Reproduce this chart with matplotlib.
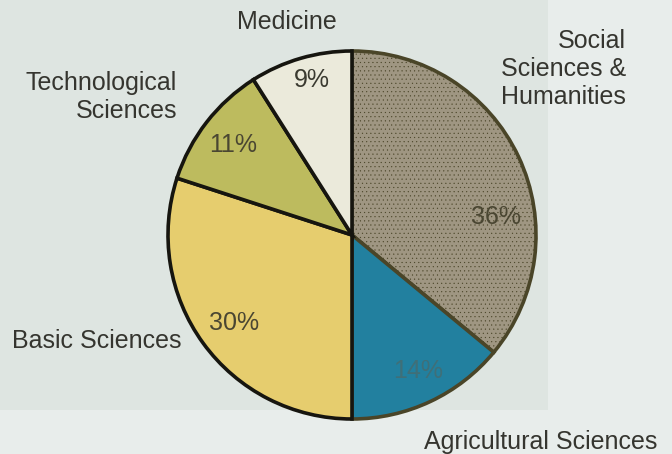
import numpy as np
import matplotlib.pyplot as plt
from matplotlib.patches import Rectangle

# Share of research output by field (percent), clockwise from 12 o'clock
fields = ["Social\nSciences &\nHumanities", "Agricultural Sciences", "Basic Sciences",
          "Technological\nSciences", "Medicine"]
shares = [36, 14, 30, 11, 9]
pct_labels = ["36%", "14%", "30%", "11%", "9%"]

colors = ["#9f9682", "#22809f", "#e6cd6e", "#bdbb5e", "#ebeadb"]
edge_colors = ["#4a4528", "#4a4528", "#16150f", "#16150f", "#16150f"]
pct_colors = ["#4a4632", "#3f6f78", "#4a4632", "#4a4632", "#3a3a30"]

# fine dotted screen on the social sciences wedge
plt.rcParams["hatch.color"] = "#948b77"
plt.rcParams["hatch.linewidth"] = 0.3

W, H = 672, 454
fig = plt.figure(figsize=(W / 100, H / 100), dpi=100)
fig.patch.set_facecolor("#e8edeb")
ax = fig.add_axes([0, 0, 1, 1])

# faint table panel behind the pie
ax.add_patch(Rectangle((0, H - 410), 548, 410, facecolor="#dee5e1", edgecolor="none", zorder=0))

cx, cy, r = 352, H - 235, 184
wedges, _ = ax.pie(shares, colors=colors, startangle=90, counterclock=False,
                   center=(cx, cy), radius=r, frame=True,
                   wedgeprops=dict(linewidth=2.6))
for w, ec in zip(wedges, edge_colors):
    w.set_edgecolor(ec)
    w.set_zorder(2)
wedges[0].set_hatch("....")
ax.set_xlim(0, W)
ax.set_ylim(0, H)
ax.set_aspect("auto")
ax.axis("off")

font = ["Liberation Sans", "DejaVu Sans"]
fs = 18

# percentage labels: angle (deg) and radial fraction for each wedge
pct_angles = [7, -64, -143.5, 143, 104.5]
pct_radii = [0.79, 0.82, 0.80, 0.81, 0.87]
for lab, ang, rf, col in zip(pct_labels, pct_angles, pct_radii, pct_colors):
    a = np.deg2rad(ang)
    ax.text(cx + rf * r * np.cos(a), cy + rf * r * np.sin(a), lab, ha="center", va="center",
            fontsize=fs, family=font, color=col, zorder=3)

# category labels around the pie
name_pos = [(626, H - 69, "right"), (657, H - 442, "right"), (182, H - 341, "right"),
            (177, H - 97, "right"), (287, H - 22, "center")]
for name, (x, y, ha) in zip(fields, name_pos):
    ax.text(x, y, name, ha=ha, va="center", fontsize=fs, family=font, color="#35352f",
            linespacing=1.2, multialignment="right" if ha == "right" else "center", zorder=3)

fig.savefig("out.png", dpi=100, facecolor=fig.get_facecolor())
